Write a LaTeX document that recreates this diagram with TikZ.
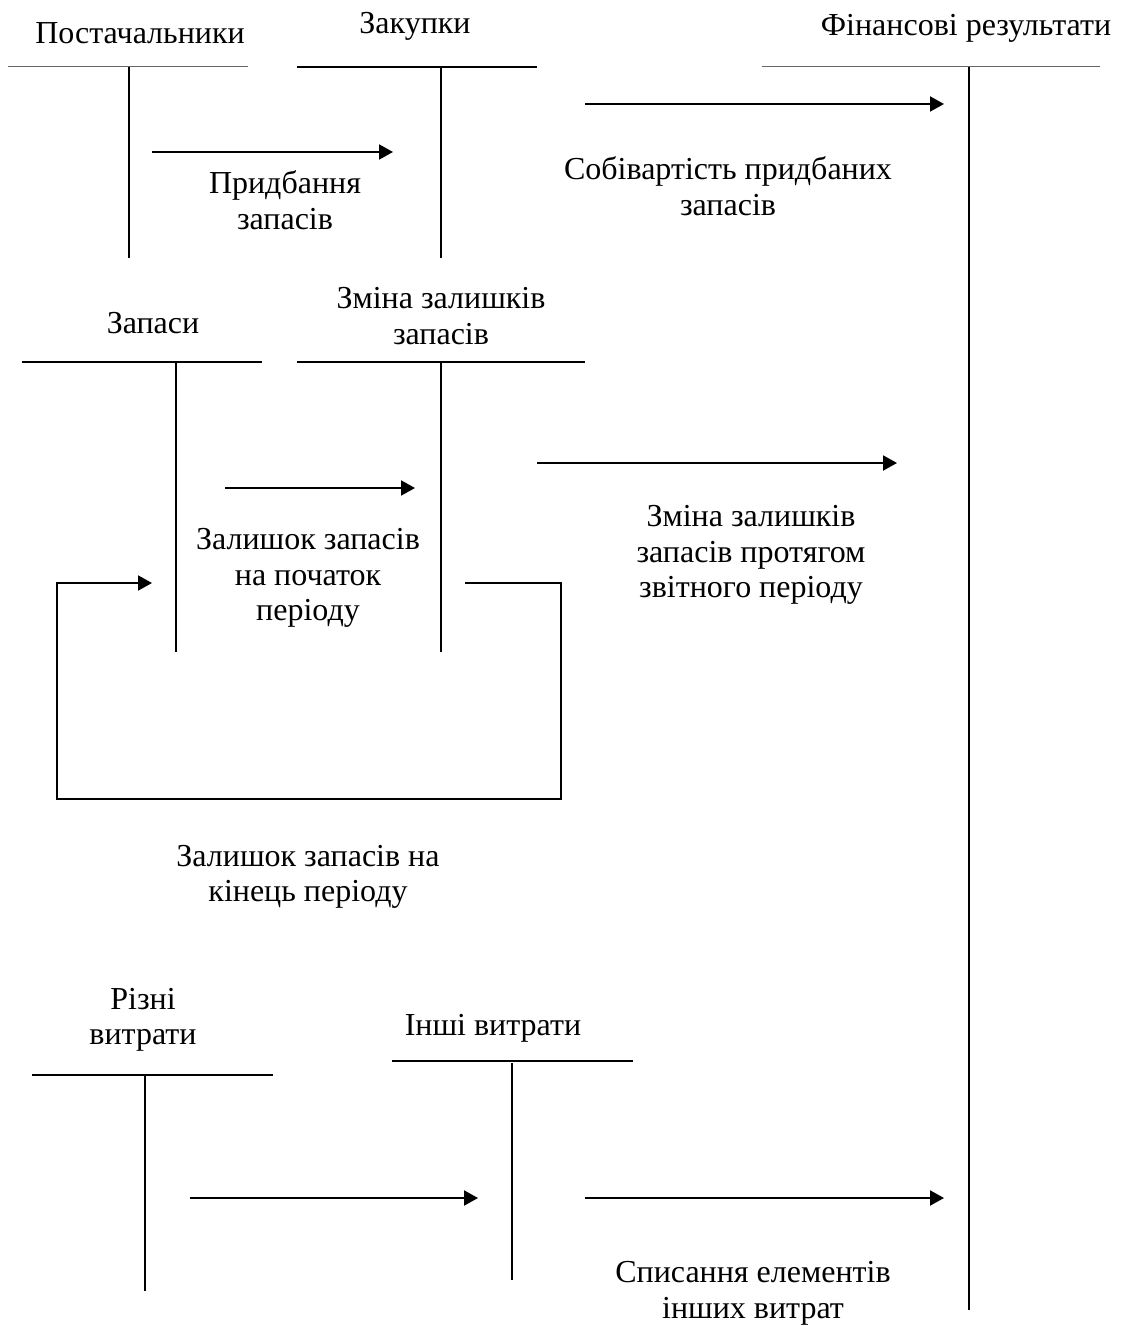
\documentclass[tikz,border=0pt]{standalone}
\usepackage{fontspec}
\setmainfont{Liberation Serif}
\usetikzlibrary{arrows.meta}
\tikzset{
  lbl/.style={align=center,inner sep=0pt,font=\fontsize{16}{17.8}\selectfont},
  acc/.style={line width=1pt},
  accthin/.style={line width=0.5pt,black!60},
  flow/.style={line width=1pt,-{Triangle[length=7pt,width=7.5pt]}},
}

\begin{document}
\begin{tikzpicture}[x=0.5pt,y=-0.5pt]
\useasboundingbox (0,0) rectangle (1122,1326);

% account headings
\node[lbl] (supp)  at (140,33)  {Постачальники};
\node[lbl] (purch) at (415,26)  {Закупки};
\node[lbl] (fin)   at (966,28)  {Фінансові результати};
\node[lbl] (stock) at (153,323) {Запаси};
\node[lbl] (chg)   at (441,316) {Зміна залишків\\запасів};
\node[lbl] (misc)  at (143,1020) {Різні\\витрати};
\node[lbl] (oth)   at (493,1028) {Інші витрати};

% T-accounts
\coordinate (suppL) at (8,67);   \coordinate (suppR) at (248,67);
\coordinate (suppT) at (129,67); \coordinate (suppB) at (129,258);
\coordinate (purL) at (297,67);  \coordinate (purR) at (537,67);
\coordinate (purT) at (441,67);  \coordinate (purB) at (441,258);
\coordinate (finL) at (762,67);  \coordinate (finR) at (1100,67);
\coordinate (finT) at (969,67);  \coordinate (finB) at (969,1310);
\coordinate (stL) at (22,362);   \coordinate (stR) at (262,362);
\coordinate (stT) at (176,362);  \coordinate (stB) at (176,652);
\coordinate (chL) at (297,362);  \coordinate (chR) at (585,362);
\coordinate (chT) at (441,362);  \coordinate (chB) at (441,652);
\coordinate (miL) at (32,1075);  \coordinate (miR) at (273,1075);
\coordinate (miT) at (145,1075); \coordinate (miB) at (145,1291);
\coordinate (otL) at (392,1061); \coordinate (otR) at (633,1061);
\coordinate (otT) at (512,1063); \coordinate (otB) at (512,1280);

\draw[accthin] (suppL) -- (suppR);
\draw[acc] (suppT) -- (suppB);
\draw[acc] (purL) -- (purR) (purT) -- (purB);
\draw[accthin] (finL) -- (finR);
\draw[acc] (finT) -- (finB);
\draw[acc] (stL) -- (stR) (stT) -- (stB);
\draw[acc] (chL) -- (chR) (chT) -- (chB);
\draw[acc] (miL) -- (miR) (miT) -- (miB);
\draw[acc] (otL) -- (otR) (otT) -- (otB);

% flows
\coordinate (f1a) at (152,152);  \coordinate (f1b) at (393,152);
\coordinate (f2a) at (585,104);  \coordinate (f2b) at (944,104);
\coordinate (f3a) at (225,488);  \coordinate (f3b) at (415,488);
\coordinate (f4a) at (537,463);  \coordinate (f4b) at (897,463);
\coordinate (f5a) at (190,1198); \coordinate (f5b) at (478,1198);
\coordinate (f6a) at (585,1198); \coordinate (f6b) at (944,1198);
\coordinate (lpA) at (465,583);  \coordinate (lpB) at (561,799);
\coordinate (lpC) at (57,799);   \coordinate (lpD) at (152,583);

\draw[flow] (f1a) -- (f1b);
\draw[flow] (f2a) -- (f2b);
\draw[flow] (f3a) -- (f3b);
\draw[flow] (f4a) -- (f4b);
\draw[flow] (f5a) -- (f5b);
\draw[flow] (f6a) -- (f6b);
\draw[flow] (lpA) -| (lpB) -- (lpC) |- (lpD);

% flow labels
\node[lbl] (l1) at (285,200) {Придбання\\запасів};
\node[lbl] (l2) at (728,186) {Собівартість придбаних\\запасів};
\node[lbl] (l3) at (308,578) {Залишок запасів\\на початок\\періоду};
\node[lbl] (l4) at (751,555) {Зміна залишків\\запасів протягом\\звітного періоду};
\node[lbl] (l5) at (308,877) {Залишок запасів на\\кінець періоду};
\node[lbl] (l6) at (753,1293) {Списання елементів\\інших витрат};
\end{tikzpicture}
\end{document}
